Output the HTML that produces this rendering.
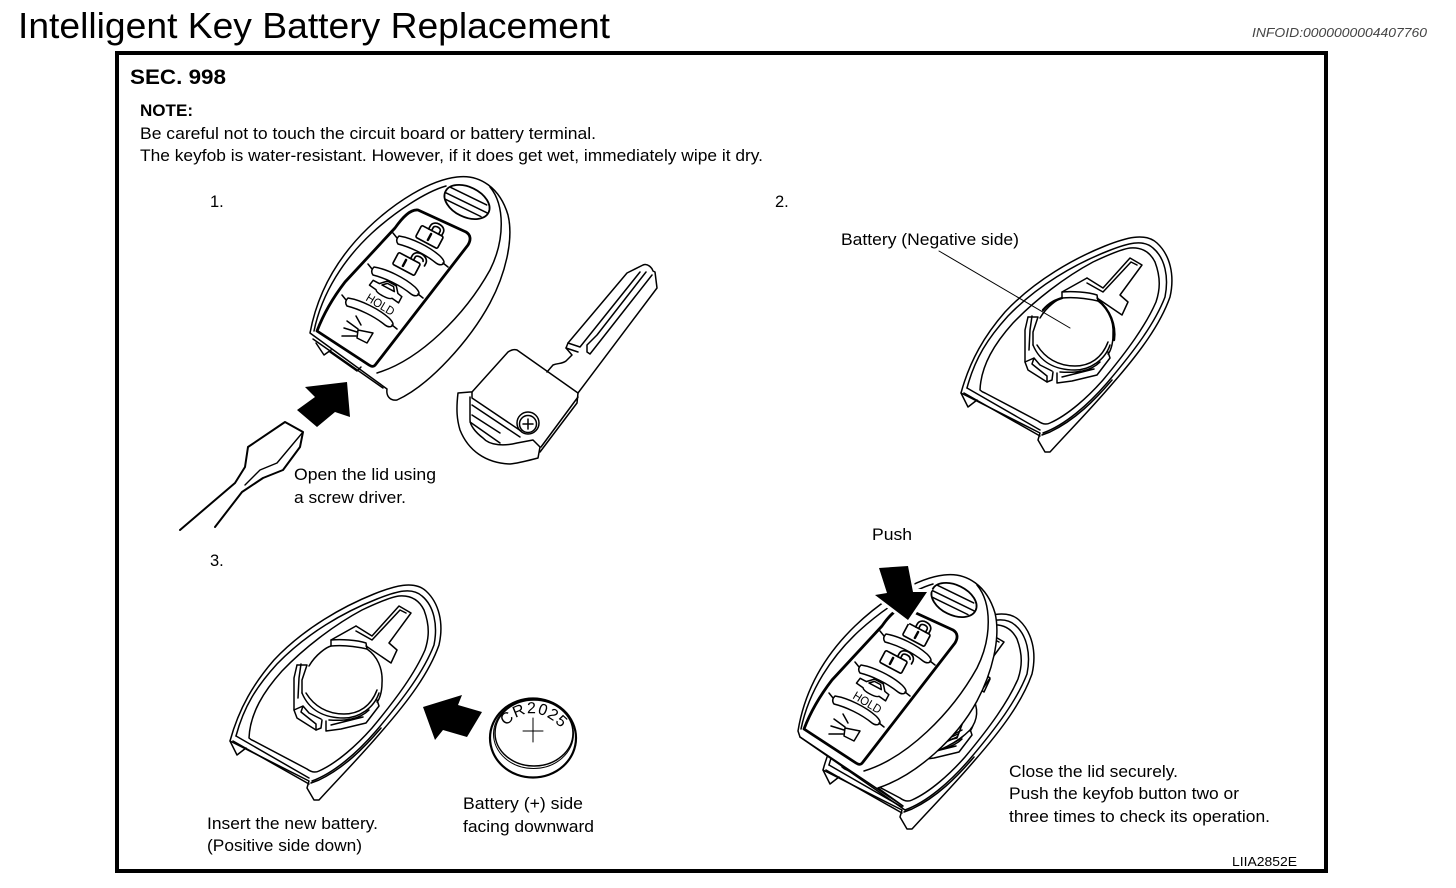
<!DOCTYPE html>
<html><head><meta charset="utf-8"><title>Intelligent Key Battery Replacement</title>
<style>html,body{margin:0;padding:0;background:#fff}svg{display:block}
text{font-family:"Liberation Sans",sans-serif;fill:#000}
.l{fill:none;stroke:#000;stroke-width:1.5;stroke-linejoin:round;stroke-linecap:round}
.t{font-size:16.5px}
</style></head><body>
<svg xmlns="http://www.w3.org/2000/svg" width="1456" height="888" viewBox="0 0 1456 888">
<defs>
<g id="cap" class="l">
  <path fill="#fff" d="M399 236C412 238 430 247 440 256Q446 262 443 264Q440 266 436 263C425 254 410 247 398 244Q395 240 399 236Z"/>
  <path d="M393 233L397 238M443 263L448 267"/>
</g>
<g id="shell" class="l">
  <path fill="#fff" d="M961 393C970 360 985 335 1005 312C1035 280 1075 258 1105 246C1125 238 1145 232 1157 243C1170 255 1175 275 1170 297C1160 325 1140 352 1113 383C1090 410 1070 430 1050 452L1045 452L1038 440L1040 433Z"/>
  <path d="M967 388C975 358 988 338 1008 316C1038 285 1075 264 1108 251C1128 243 1143 239 1153 248C1165 258 1169 277 1165 297C1155 323 1135 350 1107 383C1088 405 1065 425 1043 433"/>
  <path d="M980 390C981 365 995 343 1013 323C1035 300 1065 277 1093 262C1110 254 1122 249 1130 248C1142 247 1150 252 1155 262C1161 278 1160 290 1156 302C1146 325 1128 350 1103 380C1088 397 1068 415 1050 423C1046 425 1042 424 1038 421L985 393C982 392 981 391 980 390Z"/>
  <path d="M967 388L1040 430M964 393L1040 436"/>
  <path d="M961 393L968 407L977 400"/>
  <path d="M1042 435L1050 432C1075 420 1095 400 1112 380"/>
  <path d="M1087 278L1103 288L1130 258L1142 265L1120 295L1128 302L1122 315L1097 298"/>
  <path d="M1062 292L1087 278M1087 283L1103 292L1131 262L1137 265"/>
  <path d="M1062 292C1072 291 1088 292 1097 295L1098 301C1085 298 1072 297 1062 298Z"/>
  <path d="M1040 318C1047 306 1058 299 1062 298M1098 301C1108 308 1114 320 1113 335C1113 345 1110 352 1108 354"/>
  <path d="M1033 345C1040 362 1055 370 1075 370C1090 370 1105 360 1110 345"/>
  <path d="M1037 345C1045 358 1058 366 1075 366C1090 366 1102 358 1108 342"/>
  <path d="M1028 317L1025 330L1025 362L1028 370L1047 382L1052 380L1053 372"/>
  <path d="M1028 317L1038 317L1033 332L1033 345M1032 316L1030 330L1029 350"/>
  <path d="M1025 362L1034 358L1040 365L1052 371M1034 358L1032 364L1047 376L1047 382"/>
  <path d="M1057 373L1057 383L1072 381L1097 375L1110 358L1108 352M1060 372C1075 373 1090 372 1100 362M1062 377L1094 369"/>
</g>
<g id="face" class="l">
  <path d="M377 373C420 360 465 315 490 270C505 240 505 205 490 187"/>
  <path d="M314 331C322 292 345 258 372 233C395 212 425 192 446 186"/>
  <g transform="rotate(26 467 202)"><ellipse cx="467" cy="202" rx="24" ry="15" style="stroke-width:1.8"/><path d="M446 196L486 196M444 203L490 203M447 209L486 209"/></g>
  <path style="stroke-width:2.8" d="M317 331C325 310 335 295 345 282L395 228C402 218 410 209 418 210L466 232C471 235 471 240 468 245L376 364C374 367 372 367 369 365Z"/>
  <use href="#cap"/>
  <use href="#cap" x="-25" y="31"/>
  <use href="#cap" x="-51" y="62"/>
  <g transform="translate(430 236) rotate(28) scale(1.12)"><rect x="-11" y="-5" width="22" height="12" rx="1.5"/><path d="M-4 -5V-8C-4 -15 9 -15 9 -8V-5M-1 -5V-8C-1 -11 6 -11 6 -8V-5"/><path d="M0 -2V4" style="stroke-width:2.2"/></g>
  <g transform="translate(407 263) rotate(28) scale(1.12)"><rect x="-11" y="-5" width="22" height="12" rx="1.5"/><path d="M1 -5V-8C1 -15 14 -15 15 -8V-5M4 -5V-8C4 -11 11 -11 12 -8"/><path d="M-2 -2V4" style="stroke-width:2.2"/></g>
  <g transform="translate(385 290) rotate(28)"><path d="M-16 3L-15 -3L-8 -3L-2 -9L8 -9L13 -3L18 -2L18 5L10 4C8 7 -6 7 -8 4Z"/><path d="M-5 -3L-1 -7L6 -7L9 -3Z"/></g>
  <path d="M358 330L373 333L367 343L357 338Z"/>
  <path d="M356 316L361 325M347 321L358 329M344 328L357 332M342 336L356 336"/>
</g>
</defs>

<text x="18" y="38" style="font-size:36px" textLength="592" lengthAdjust="spacingAndGlyphs">Intelligent Key Battery Replacement</text>
<text x="1252" y="37" style="font-size:13px;font-style:italic;fill:#444" textLength="175" lengthAdjust="spacingAndGlyphs">INFOID:0000000004407760</text>
<rect x="117" y="53" width="1209" height="818" fill="none" stroke="#000" stroke-width="4"/>
<text x="130" y="84" style="font-size:21.5px;font-weight:bold" textLength="96" lengthAdjust="spacingAndGlyphs">SEC. 998</text>
<text x="140" y="116" class="t" style="font-weight:bold" textLength="53" lengthAdjust="spacingAndGlyphs">NOTE:</text>
<text x="140" y="139" class="t" textLength="456" lengthAdjust="spacingAndGlyphs">Be careful not to touch the circuit board or battery terminal.</text>
<text x="140" y="161" class="t" textLength="623" lengthAdjust="spacingAndGlyphs">The keyfob is water-resistant. However, if it does get wet, immediately wipe it dry.</text>
<text x="210" y="207" class="t">1.</text>
<text x="775" y="207" class="t">2.</text>
<text x="210" y="566" class="t">3.</text>
<text x="841" y="245" class="t" textLength="178" lengthAdjust="spacingAndGlyphs">Battery (Negative side)</text>
<text x="294" y="480" class="t" textLength="142" lengthAdjust="spacingAndGlyphs">Open the lid using</text>
<text x="294" y="503" class="t" textLength="112" lengthAdjust="spacingAndGlyphs">a screw driver.</text>
<text x="872" y="540" class="t" textLength="40" lengthAdjust="spacingAndGlyphs">Push</text>
<text x="207" y="829" class="t" textLength="171" lengthAdjust="spacingAndGlyphs">Insert the new battery.</text>
<text x="207" y="851" class="t" textLength="155" lengthAdjust="spacingAndGlyphs">(Positive side down)</text>
<text x="463" y="809" class="t" textLength="120" lengthAdjust="spacingAndGlyphs">Battery (+) side</text>
<text x="463" y="832" class="t" textLength="131" lengthAdjust="spacingAndGlyphs">facing downward</text>
<text x="1009" y="777" class="t" textLength="169" lengthAdjust="spacingAndGlyphs">Close the lid securely.</text>
<text x="1009" y="799" class="t" textLength="230" lengthAdjust="spacingAndGlyphs">Push the keyfob button two or</text>
<text x="1009" y="822" class="t" textLength="261" lengthAdjust="spacingAndGlyphs">three times to check its operation.</text>
<text x="1232" y="866" style="font-size:13px" textLength="65" lengthAdjust="spacingAndGlyphs">LIIA2852E</text>

<!-- Step 1 -->
<g class="l">
  <path fill="#fff" d="M310 333C318 290 340 255 368 228C395 202 430 180 457 177C480 174 500 188 508 215C514 240 505 275 490 303C470 340 430 385 397 400C390 401 386 396 387 389Z"/>
  <path d="M313 339L383 388"/>
  <path d="M316 343L324 355L331 350M330 352L357 371L361 367"/>
</g>
<use href="#face"/>
<text transform="translate(365 300) rotate(31)" style="font-size:12px" textLength="31" lengthAdjust="spacingAndGlyphs">HOLD</text>
<path d="M347 382L305 387L315 397L297 410L317 427L335 412L350 417Z" fill="#000"/>
<g class="l" style="stroke-width:2">
  <path d="M215 527L242 492L263 478L283 470L300 447L303 432L285 422L248 447L245 467L235 483L180 530"/>
  <path d="M303 432L277 463L260 470L245 485" style="stroke-width:1.4"/>
</g>
<g class="l">
  <path d="M547 372L553 365C558 363 562 364 566 361L572 355L566 348L568 343L627 273L643 265C648 263 652 268 653 271L655 272L657 288L578 393"/>
  <path d="M568 343L580 347L640 272M566 348L578 352"/>
  <path d="M587 345L587 352L590 354L652 275M587 345L597 335L646 272"/>
  <path d="M472 392L508 352C511 350 514 349 517 350L578 393L577 403L540 452"/>
  <path d="M578 397L541 447"/>
  <path d="M458 393L470 392L472 392L472 398L521 431M458 393C456 410 457 420 460 430C468 450 485 463 510 464C520 463 530 460 538 458L540 447L533 440L517 443C505 446 490 446 483 438C475 432 470 425 470 420L470 397"/>
  <path d="M472 405L520 437M470 422L500 443M472 415L500 433"/>
  <circle cx="528" cy="423" r="11"/><circle cx="528" cy="424" r="8.5"/>
  <path d="M523 424H533M528 419V429" style="stroke-width:1.5"/>
</g>

<!-- Step 2 -->
<use href="#shell"/>
<g class="l">
  <path d="M1043 310C1050 302 1056 300 1062 298M1098 300C1110 310 1116 325 1114 340" style="stroke-width:2.4"/>
  <path d="M939 251L1070 328" style="stroke-width:1"/>
</g>

<!-- Step 3 -->
<use href="#shell" x="-731" y="348"/>
<path d="M423 707L435 740L443 730L467 737L482 712L458 705L462 695Z" fill="#000"/>
<g class="l">
  <ellipse cx="533" cy="738" rx="43" ry="39.5" style="stroke-width:2.2"/>
  <ellipse cx="534" cy="733" rx="39" ry="33"/>
  <ellipse cx="533.5" cy="734" rx="40" ry="34.5" style="stroke-width:1"/>
  <path d="M523 731H543M533 718V742" style="stroke-width:1"/>
</g>
<path id="crarc" d="M505 727Q533 698 563 730" fill="none"/>
<text style="font-size:16px;letter-spacing:1px"><textPath href="#crarc" startOffset="1">CR2025</textPath></text>

<!-- Step 4 -->
<use href="#shell" x="-138" y="377"/>
<g class="l">
  <path fill="#fff" d="M972 697C979 708 978 720 970 730C960 740 945 750 917 758L927 745L957 738L960 730Z"/>
  <path d="M922 752L955 738M925 749L958 734M935 744L962 730"/>
  <path fill="#fff" d="M977 682L983 673L990 678L982 690Z"/>
  <path fill="#fff" d="M798 731C805 688 827 653 855 626C882 600 917 578 944 575C967 572 987 586 995 613C1001 638 992 673 977 701C957 738 917 775 878 788L903 806L800 737Z"/>
  <path d="M800 737L905 810"/>
</g>
<use href="#face" x="487" y="398"/>
<text transform="translate(852 698) rotate(31)" style="font-size:12px" textLength="31" lengthAdjust="spacingAndGlyphs">HOLD</text>
<path d="M879 568L908 566L913 592L927 592L908 620L875 595L887 593Z" fill="#000" stroke="#fff" stroke-width="6" paint-order="stroke"/>
</svg>
</body></html>
